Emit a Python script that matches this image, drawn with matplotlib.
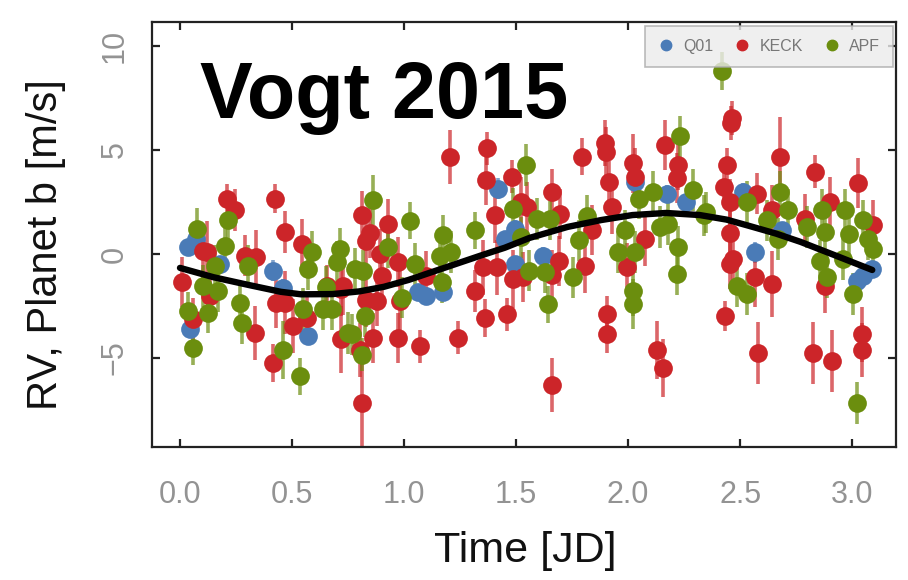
import numpy as np
import matplotlib.pyplot as plt
from matplotlib.lines import Line2D
from matplotlib.colors import to_rgba

plt.rcParams['font.family'] = ['Liberation Sans', 'DejaVu Sans']

# colours of the three instruments
c_q01 = '#4a7bb7'
c_keck = '#cc2529'
c_apf = '#6b8e0e'

# Q01 : phase [JD], RV [m/s], error [m/s]
q01_t = [0.037, 0.07, 0.18, 0.417, 0.46, 0.045, 0.573, 1.064, 1.10, 1.176,
         1.421, 1.496, 1.496, 1.45, 2.03, 2.173, 2.26, 1.622, 2.567, 2.686,
         2.515, 3.05, 3.089, 3.02]
q01_rv = [0.32, 0.72, -0.5, -0.81, -1.62, -3.63, -3.95, -1.85, -2.0, -1.85,
          3.14, 1.21, -0.48, 0.72, 3.47, 2.9, 2.5, -0.08, 0.08, 1.13,
          3.0, -1.05, -0.73, -1.3]
q01_err = [0.4, 0.4, 0.4, 0.5, 0.4, 0.4, 0.4, 0.4, 0.4, 0.4,
           0.5, 0.4, 0.4, 0.4, 0.5, 0.4, 0.4, 0.4, 0.5, 0.4,
           0.4, 0.4, 0.4, 0.4]

# KECK
keck_t = [0.21, 0.245, 0.424, 0.469, 0.543, 0.104, 0.12, 0.007, 0.134, 0.29,
          0.34, 0.06, 0.335, 0.43, 0.47, 0.506, 0.417, 0.655, 0.72, 0.72,
          0.566, 1.205, 1.369, 1.366, 1.48, 1.406, 0.811, 0.93, 0.848, 0.83,
          0.893, 0.975, 0.9, 0.729, 0.83, 0.878, 0.982, 0.863, 0.975, 1.07,
          1.242, 0.804, 0.811, 1.354, 1.414, 1.317, 1.362, 1.458, 1.488, 1.1,
          1.52, 1.793, 1.897, 1.9, 1.913, 2.024, 2.03, 2.165, 2.225, 2.22,
          1.66, 1.548, 1.93, 1.696, 1.838, 2.076, 1.69, 1.808, 1.994, 1.53,
          1.908, 1.906, 1.66, 2.128, 2.158, 1.66, 2.463, 2.46, 2.679, 2.835,
          3.028, 2.44, 2.43, 2.574, 2.455, 2.9, 3.095, 2.455, 2.47, 2.455,
          2.567, 2.641, 2.88, 2.433, 2.582, 2.827, 2.909, 3.043, 3.043, 2.641,
          2.79]
keck_rv = [2.66, 2.1, 2.66, 1.05, 0.48, 0.16, 0.08, -1.37, -2.0, -0.08,
           -0.16, -3.14, -3.79, -2.34, -2.34, -3.47, -5.24, -1.53, -1.7, -4.1,
           -3.1, 4.68, 5.08, 3.55, 3.71, 1.85, 1.85, 1.45, 1.0, 0.6,
           0.0, -0.4, -1.05, -1.55, -2.2, -2.27, -2.27, -4.03, -4.03, -4.44,
           -4.03, -4.6, -7.17, -0.65, -0.65, -1.77, -3.07, -2.9, -1.2, -1.05,
           2.5, 4.68, 5.32, 4.92, 3.47, 4.35, 3.7, 5.24, 4.27, 3.63,
           2.98, 2.26, 2.26, 1.93, 1.13, 0.73, -0.32, -0.56, -0.65, -1.13,
           -2.9, -3.87, -6.29, -4.6, -5.48, -1.0, 6.53, 6.3, 4.68, 3.95,
           3.39, 4.27, 3.23, 2.9, 2.5, 2.5, 1.37, 1.0, -0.24, -0.48,
           -1.13, -1.45, -1.53, -2.98, -4.76, -4.76, -5.16, -3.87, -4.6, 2.1,
           1.7]
keck_err = [0.7, 1.0, 0.7, 1.0, 1.2, 1.3, 1.5, 1.2, 1.0, 1.0,
            1.3, 1.0, 1.3, 1.2, 1.5, 1.3, 0.9, 1.0, 1.3, 1.6,
            1.2, 1.3, 0.8, 1.2, 0.8, 1.3, 1.2, 1.2, 1.2, 1.2,
            1.2, 1.2, 1.4, 1.4, 1.3, 1.2, 1.6, 1.2, 1.2, 0.8,
            0.8, 1.3, 2.4, 1.3, 1.3, 1.0, 0.9, 0.8, 1.4, 1.2,
            1.2, 0.9, 1.1, 1.2, 1.0, 1.4, 1.4, 1.2, 1.2, 1.2,
            1.1, 1.2, 1.3, 1.2, 1.2, 1.3, 1.2, 1.3, 1.2, 1.2,
            0.9, 0.9, 1.3, 1.4, 1.4, 1.2, 0.8, 0.8, 1.9, 0.8,
            1.2, 0.8, 0.9, 1.0, 1.1, 1.2, 1.2, 1.2, 1.2, 1.2,
            1.4, 1.6, 1.3, 0.7, 1.5, 1.5, 1.5, 1.3, 1.3, 1.2,
            1.2]

# APF
apf_t = [0.074, 0.216, 0.2, 0.156, 0.305, 0.104, 0.17, 0.037, 0.126, 0.268,
         0.275, 0.06, 0.461, 0.536, 0.588, 0.57, 0.714, 0.70, 0.55, 0.64,
         0.68, 0.65, 0.75, 0.863, 1.027, 1.317, 1.176, 1.21, 1.16, 0.93,
         1.05, 0.78, 0.818, 1.168, 0.99, 0.826, 0.766, 0.811, 1.488, 1.546,
         1.52, 1.56, 2.232, 2.113, 2.05, 2.29, 1.592, 1.65, 1.78, 1.815,
         1.987, 2.143, 2.18, 1.957, 2.03, 2.225, 2.22, 1.63, 1.756, 1.644,
         2.024, 2.02, 2.35, 2.418, 2.679, 2.53, 2.716, 2.619, 2.67, 2.798,
         2.864, 2.88, 2.969, 2.985, 3.05, 3.095, 2.857, 2.887, 2.961, 2.485,
         2.53, 3.006, 3.021, 2.34, 3.07]
apf_rv = [1.21, 1.61, 0.4, -0.56, -0.56, -1.53, -1.77, -2.74, -2.82, -2.34,
          -3.31, -4.52, -4.6, -5.89, 0.08, -0.73, 0.24, -0.4, -2.66, -2.66,
          -2.66, -1.6, -3.8, 2.58, 1.6, 1.13, 0.89, 0.08, -0.08, 0.32,
          -0.48, -0.73, -0.81, -1.37, -2.1, -2.98, -3.87, -4.84, 2.18, 4.27,
          0.8, -0.8, 5.65, 2.98, 2.66, 3.07, 1.69, 1.69, 0.65, 1.82,
          1.13, 1.29, 1.45, 0.08, 0.08, 0.32, -0.97, -0.89, -1.13, -2.42,
          -1.77, -2.42, 2.0, 8.79, 2.98, 2.5, 2.1, 1.61, 0.73, 1.29,
          2.1, 1.05, 2.1, 0.97, 1.61, 0.24, -0.32, -1.13, -0.24, -1.53,
          -1.93, -1.93, -7.17, 1.85, 0.73]
apf_err = [1.0, 1.0, 1.0, 1.0, 1.0, 1.0, 1.0, 0.9, 1.0, 1.0,
           1.0, 0.8, 1.4, 0.9, 1.0, 1.0, 1.0, 1.0, 1.0, 1.0,
           1.0, 1.0, 1.0, 1.2, 0.9, 0.9, 1.0, 1.0, 1.0, 1.0,
           1.0, 1.0, 1.0, 1.0, 1.0, 1.0, 1.0, 0.8, 1.0, 1.0,
           1.0, 1.0, 1.0, 1.0, 1.0, 1.0, 1.0, 1.0, 1.0, 1.0,
           1.0, 1.0, 1.0, 1.0, 1.0, 1.0, 1.0, 1.0, 1.0, 0.9,
           1.2, 1.2, 1.0, 0.9, 1.0, 1.0, 1.0, 1.0, 1.0, 1.0,
           1.0, 1.0, 1.0, 1.0, 1.0, 1.0, 1.0, 1.0, 1.0, 1.0,
           1.0, 1.0, 1.0, 1.0, 1.0]

# orbit model for planet b
model_t = [0.0, 0.15, 0.31, 0.45, 0.54, 0.68, 0.80, 0.91, 1.02, 1.13, 1.24,
           1.35, 1.45, 1.56, 1.65, 1.73, 1.88, 2.02, 2.17, 2.32, 2.44, 2.54,
           2.66, 2.77, 2.92, 3.09]
model_rv = [-0.67, -1.12, -1.5, -1.82, -1.94, -1.93, -1.8, -1.58, -1.25, -0.85,
            -0.45, -0.05, 0.3, 0.77, 1.05, 1.3, 1.63, 1.87, 1.97, 1.87, 1.65,
            1.35, 0.98, 0.58, -0.05, -0.77]

fig = plt.figure(figsize=(9.08, 5.8), dpi=100)
ax = fig.add_axes([152 / 908, 1 - 447 / 580, 744 / 908, 425 / 580])

for t, rv, err, col in [(q01_t, q01_rv, q01_err, c_q01),
                        (keck_t, keck_rv, keck_err, c_keck),
                        (apf_t, apf_rv, apf_err, c_apf)]:
    ax.errorbar(t, rv, yerr=err, fmt='o', color=col, ms=13.5, mew=0,
                ecolor=to_rgba(col, 0.7), elinewidth=2.6, capsize=0)

ax.plot(model_t, model_rv, color='black', lw=4.6, solid_capstyle='round', zorder=5)

ax.set_xlim(-0.125, 3.196)
ax.set_ylim(-9.28, 11.15)
ax.set_xticks([0.0, 0.5, 1.0, 1.5, 2.0, 2.5, 3.0])
ax.set_yticks([-5, 0, 5, 10])
ax.set_xticklabels(['0.0', '0.5', '1.0', '1.5', '2.0', '2.5', '3.0'])
ax.tick_params(direction='in', top=True, right=True, length=6, width=1.6,
               color='#222222', labelcolor='#939393', labelsize=22)
ax.tick_params(axis='x', pad=24)
ax.tick_params(axis='y', pad=16)
for lab in ax.get_yticklabels():
    lab.set_rotation(90)
    lab.set_va('center')
for s in ax.spines.values():
    s.set_linewidth(1.6)
    s.set_color('#222222')

fig.text(525 / 908, 1 - 551 / 580, 'Time [JD]', fontsize=31, ha='center', va='center',
         color='#111111')
fig.text(46 / 908, 1 - 245 / 580, 'RV, Planet b [m/s]', fontsize=30, rotation=90,
         ha='center', va='center', color='#111111')

fig.text(200 / 908, 1 - 118 / 580, 'Vogt 2015', fontsize=57, fontweight='bold',
         ha='left', va='baseline', color='black', zorder=10)

handles = [Line2D([], [], marker='o', ls='', color=c, ms=7.5) for c in (c_q01, c_keck, c_apf)]
leg = ax.legend(handles, ['Q01', 'KECK', 'APF'], loc='upper right', ncol=3,
                bbox_to_anchor=(0.996, 0.99), borderaxespad=0, fontsize=11.5,
                labelcolor='#777777', frameon=True, fancybox=False,
                handletextpad=0.6, columnspacing=1.3, borderpad=0.8, handlelength=1.0)
leg.get_frame().set_facecolor('#ececec')
leg.get_frame().set_edgecolor('#aaaaaa')
leg.get_frame().set_linewidth(1.2)
leg.set_zorder(20)

fig.savefig('out.png', dpi=100)
